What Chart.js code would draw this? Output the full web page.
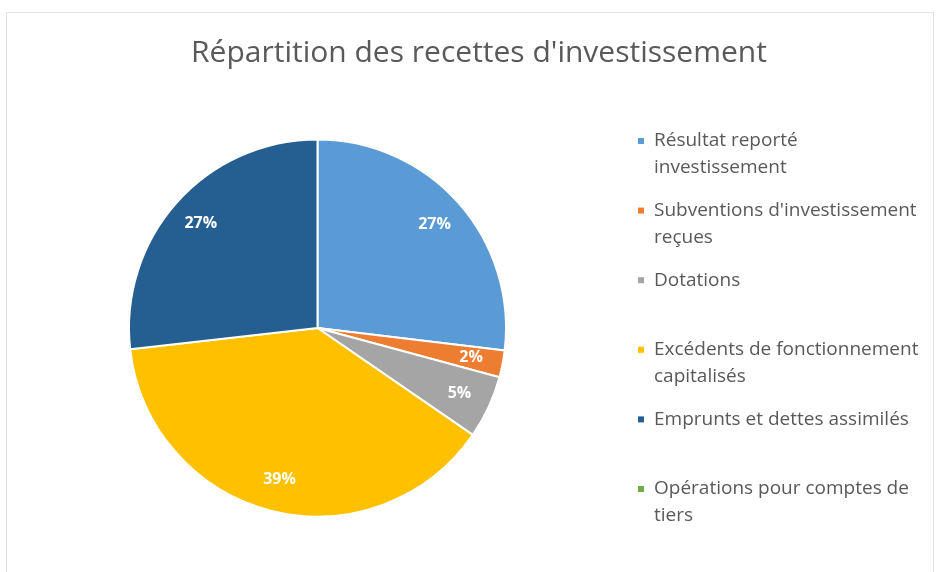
<!DOCTYPE html>
<html>
<head>
<meta charset="utf-8">
<script src="https://cdn.jsdelivr.net/npm/chart.js@4"></script>
<style>
  html, body { margin: 0; padding: 0; background: #fff; }
  #wrap { position: relative; width: 941px; height: 572px; }
  #frame { position: absolute; left: 6px; top: 12px; width: 928px; height: 580px; border: 1px solid #e3e3e3; box-sizing: border-box; }
  canvas { position: absolute; left: 0; top: 0; }
</style>
</head>
<body>
<div id="wrap">
  <div id="frame"></div>
  <canvas id="pie" width="941" height="572"></canvas>
</div>
<script>
// chart data
const title = "Répartition des recettes d'investissement";
const categories = [
  'Résultat reporté investissement',
  "Subventions d'investissement reçues",
  'Dotations',
  'Excédents de fonctionnement capitalisés',
  'Emprunts et dettes assimilés',
  'Opérations pour comptes de tiers'
];
const shares = [26.9, 2.3, 5.4, 38.6, 26.8, 0];
const colors = ['#5b9bd5', '#ed7d31', '#a5a5a5', '#ffc000', '#255e91', '#70ad47'];

const textColor = '#595959';
const fontFamily = "'Open Sans', 'Liberation Sans', sans-serif";

// percent labels inside the slices
const sliceLabels = {
  id: 'sliceLabels',
  afterDatasetsDraw(chart) {
    const { ctx } = chart;
    const meta = chart.getDatasetMeta(0);
    const data = chart.data.datasets[0].data;
    const total = data.reduce((a, b) => a + b, 0);
    ctx.save();
    ctx.font = 'bold 16px ' + fontFamily;
    ctx.fillStyle = '#ffffff';
    ctx.textAlign = 'center';
    ctx.textBaseline = 'middle';
    meta.data.forEach((arc, i) => {
      if (!data[i]) return;
      const mid = (arc.startAngle + arc.endAngle) / 2;
      const r = arc.outerRadius * 0.83;
      ctx.fillText(Math.round(data[i] / total * 100) + '%', arc.x + Math.cos(mid) * r, arc.y + Math.sin(mid) * r);
    });
    ctx.restore();
  }
};

// title and wrapped legend on the right
const sideText = {
  id: 'sideText',
  afterDraw(chart) {
    const { ctx } = chart;
    ctx.save();
    ctx.fillStyle = textColor;
    ctx.textAlign = 'center';
    ctx.textBaseline = 'middle';
    ctx.font = '30px ' + fontFamily;
    ctx.fillText(title, 479, 53);

    ctx.font = '19px ' + fontFamily;
    ctx.textAlign = 'left';
    const maxW = 280;
    categories.forEach((name, i) => {
      const y0 = 141 + i * 69.6;
      const lines = [];
      let cur = '';
      name.split(' ').forEach(w => {
        const test = cur ? cur + ' ' + w : w;
        if (cur && ctx.measureText(test).width > maxW) { lines.push(cur); cur = w; }
        else cur = test;
      });
      lines.push(cur);
      ctx.fillStyle = colors[i];
      ctx.fillRect(638, y0 - 3, 6, 6);
      ctx.fillStyle = textColor;
      lines.forEach((l, k) => ctx.fillText(l, 654, y0 + k * 27));
    });
    ctx.restore();
  }
};

new Chart(document.getElementById('pie').getContext('2d'), {
  type: 'pie',
  data: {
    labels: categories,
    datasets: [{
      data: shares,
      backgroundColor: colors,
      borderColor: '#ffffff',
      borderWidth: 2
    }]
  },
  options: {
    responsive: false,
    animation: false,
    layout: { padding: { left: 128, right: 434, top: 138, bottom: 54 } },
    plugins: {
      legend: { display: false },
      title: { display: false },
      tooltip: { enabled: false }
    }
  },
  plugins: [sliceLabels, sideText]
});
</script>
</body>
</html>
